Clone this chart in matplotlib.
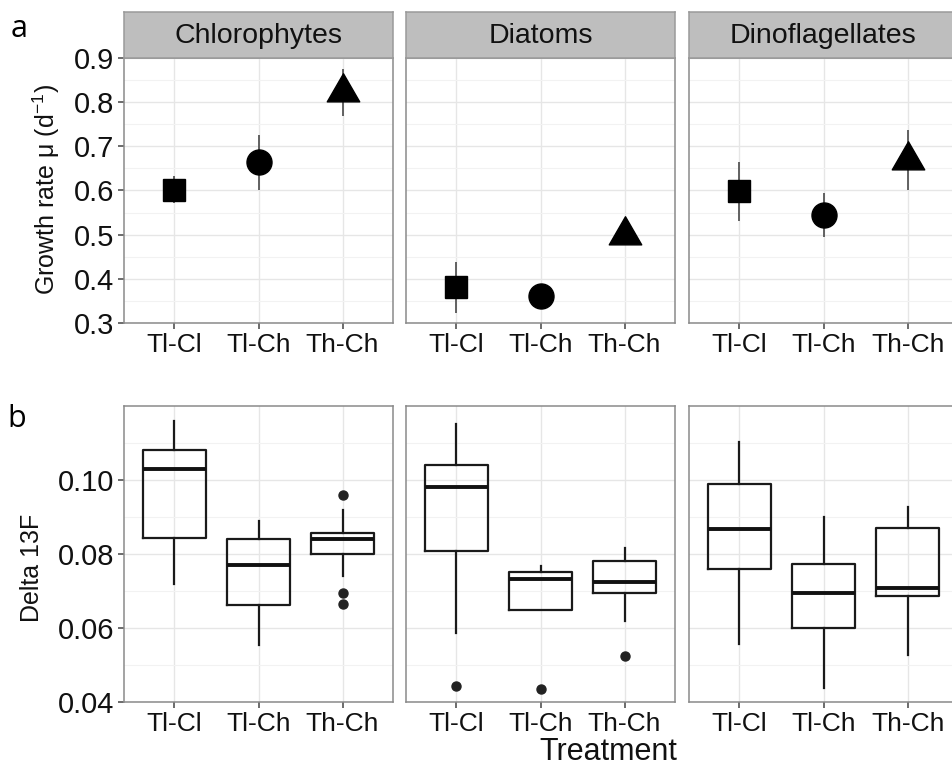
import numpy as np
import matplotlib.pyplot as plt
from matplotlib.path import Path

plt.rcParams['font.family'] = ['Liberation Sans', 'DejaVu Sans']
plt.rcParams['mathtext.fontset'] = 'custom'
plt.rcParams['mathtext.rm'] = 'Liberation Sans'
plt.rcParams['mathtext.it'] = 'Liberation Sans:italic'

groups = ["Chlorophytes", "Diatoms", "Dinoflagellates"]
treatments = ["Tl-Cl", "Tl-Ch", "Th-Ch"]

# panel a: growth rate mean and error (half range)
chloro_mu = [0.602, 0.664, 0.822]
chloro_err = [0.031, 0.062, 0.053]
diatom_mu = [0.381, 0.362, 0.499]
diatom_err = [0.058, 0.008, 0.012]
dino_mu = [0.598, 0.545, 0.670]
dino_err = [0.066, 0.050, 0.068]

# panel b: boxplot stats (whislo, q1, med, q3, whishi, outliers)
chloro_box = [
    (0.0720, 0.0844, 0.1031, 0.1081, 0.1159, []),
    (0.0554, 0.0661, 0.0770, 0.0840, 0.0890, []),
    (0.0741, 0.0799, 0.0840, 0.0858, 0.0919, [0.0959, 0.0695, 0.0664]),
]
diatom_box = [
    (0.0587, 0.0808, 0.0982, 0.1041, 0.1152, [0.0443]),
    (0.0650, 0.0650, 0.0732, 0.0751, 0.0768, [0.0434]),
    (0.0619, 0.0695, 0.0725, 0.0781, 0.0817, [0.0524]),
]
dino_box = [
    (0.0558, 0.0760, 0.0867, 0.0989, 0.1102, []),
    (0.0438, 0.0599, 0.0694, 0.0772, 0.0899, []),
    (0.0527, 0.0686, 0.0709, 0.0869, 0.0926, []),
]

mus = [chloro_mu, diatom_mu, dino_mu]
errs = [chloro_err, diatom_err, dino_err]
boxes = [chloro_box, diatom_box, dino_box]

# triangle with centroid at the point (like R pch 17)
tri = Path([(0, 2 / 3.), (-0.577, -1 / 3.), (0.577, -1 / 3.), (0, 2 / 3.)],
           [Path.MOVETO, Path.LINETO, Path.LINETO, Path.CLOSEPOLY])
markers = [('s', 16.5), ('o', 18), (tri, 27)]

W, H = 952, 770
fig = plt.figure(figsize=(W / 100, H / 100), dpi=100)


def fx(px):
    return px / W


def fy(py):
    return 1 - py / H


lefts = [124, 406, 689]
pw = 269
border = '#8a8a8a'
txt = '#111111'


def style(ax, show_y):
    for s in ax.spines.values():
        s.set_color(border)
        s.set_linewidth(1.1)
    ax.set_facecolor('white')
    ax.grid(True, which='major', color='#e6e6e6', lw=1.0)
    ax.grid(True, which='minor', axis='y', color='#f2f2f2', lw=0.8)
    ax.set_axisbelow(True)
    ax.tick_params(which='major', direction='out', length=4, width=1.1,
                   color='#444444', labelsize=19, pad=3, labelcolor=txt)
    ax.tick_params(axis='y', labelsize=21)
    ax.tick_params(which='minor', length=0)
    ax.set_xlim(0.4, 3.6)
    ax.set_xticks([1, 2, 3])
    ax.set_xticklabels(treatments)
    if not show_y:
        ax.tick_params(axis='y', length=0, labelleft=False)


# panel a
for i, g in enumerate(groups):
    ax = fig.add_axes([fx(lefts[i]), fy(323), fx(pw), (323 - 58) / H])
    style(ax, i == 0)
    ax.set_ylim(0.3, 0.9)
    ax.set_yticks(np.arange(0.3, 0.91, 0.1))
    ax.set_yticks(np.arange(0.35, 0.9, 0.1), minor=True)
    ax.set_yticklabels(['%.1f' % v for v in np.arange(0.3, 0.91, 0.1)])
    for j in range(3):
        ax.vlines(j + 1, mus[i][j] - errs[i][j], mus[i][j] + errs[i][j],
                  color='#555555', lw=1.3, zorder=3)
        m, ms = markers[j]
        ax.plot(j + 1, mus[i][j], marker=m, ms=ms, color='black',
                mec='black', ls='none', zorder=4, clip_on=False)
    # strip
    sax = fig.add_axes([fx(lefts[i]), fy(58), fx(pw), (58 - 12) / H])
    sax.set_facecolor('#bebebe')
    sax.set_xticks([])
    sax.set_yticks([])
    for s in sax.spines.values():
        s.set_color('#9a9a9a')
        s.set_linewidth(1.1)
    sax.text(0.5, 0.47, g, ha='center', va='center', fontsize=20.5,
             color=txt, transform=sax.transAxes)

# panel b
for i, g in enumerate(groups):
    ax = fig.add_axes([fx(lefts[i]), fy(702), fx(pw), (702 - 406) / H])
    style(ax, i == 0)
    ax.set_ylim(0.04, 0.12)
    ax.set_yticks([0.04, 0.06, 0.08, 0.10])
    ax.set_yticks([0.05, 0.07, 0.09, 0.11], minor=True)
    ax.set_yticklabels(['0.04', '0.06', '0.08', '0.10'])
    stats = []
    for j, b in enumerate(boxes[i]):
        stats.append(dict(whislo=b[0], q1=b[1], med=b[2], q3=b[3],
                          whishi=b[4], fliers=b[5], label=treatments[j]))
    ax.bxp(stats, positions=[1, 2, 3], widths=0.75, showcaps=False,
           boxprops=dict(color='#1a1a1a', lw=1.6),
           whiskerprops=dict(color='#1a1a1a', lw=1.6),
           medianprops=dict(color='#111111', lw=2.8),
           flierprops=dict(marker='o', ms=6.5, mfc='#222222',
                           mec='#222222'))
    ax.set_xticks([1, 2, 3])
    ax.set_xticklabels(treatments)
    ax.set_xlim(0.4, 3.6)

fig.text(fx(46), fy(190), r'Growth rate μ (d$^{-1}$)', rotation=90,
         ha='center', va='center', fontsize=18, color=txt)
fig.text(fx(32), fy(568), 'Delta 13F', rotation=90,
         ha='center', va='center', fontsize=18, color=txt)
fig.text(fx(608), fy(767), 'Treatment', ha='center', va='bottom',
         fontsize=22, color=txt)
fig.text(fx(19), fy(29), 'a', ha='center', va='center', fontsize=22,
         family='Open Sans')
fig.text(fx(17), fy(419), 'b', ha='center', va='center', fontsize=22,
         family='Open Sans')

fig.savefig('out.png', dpi=100)
